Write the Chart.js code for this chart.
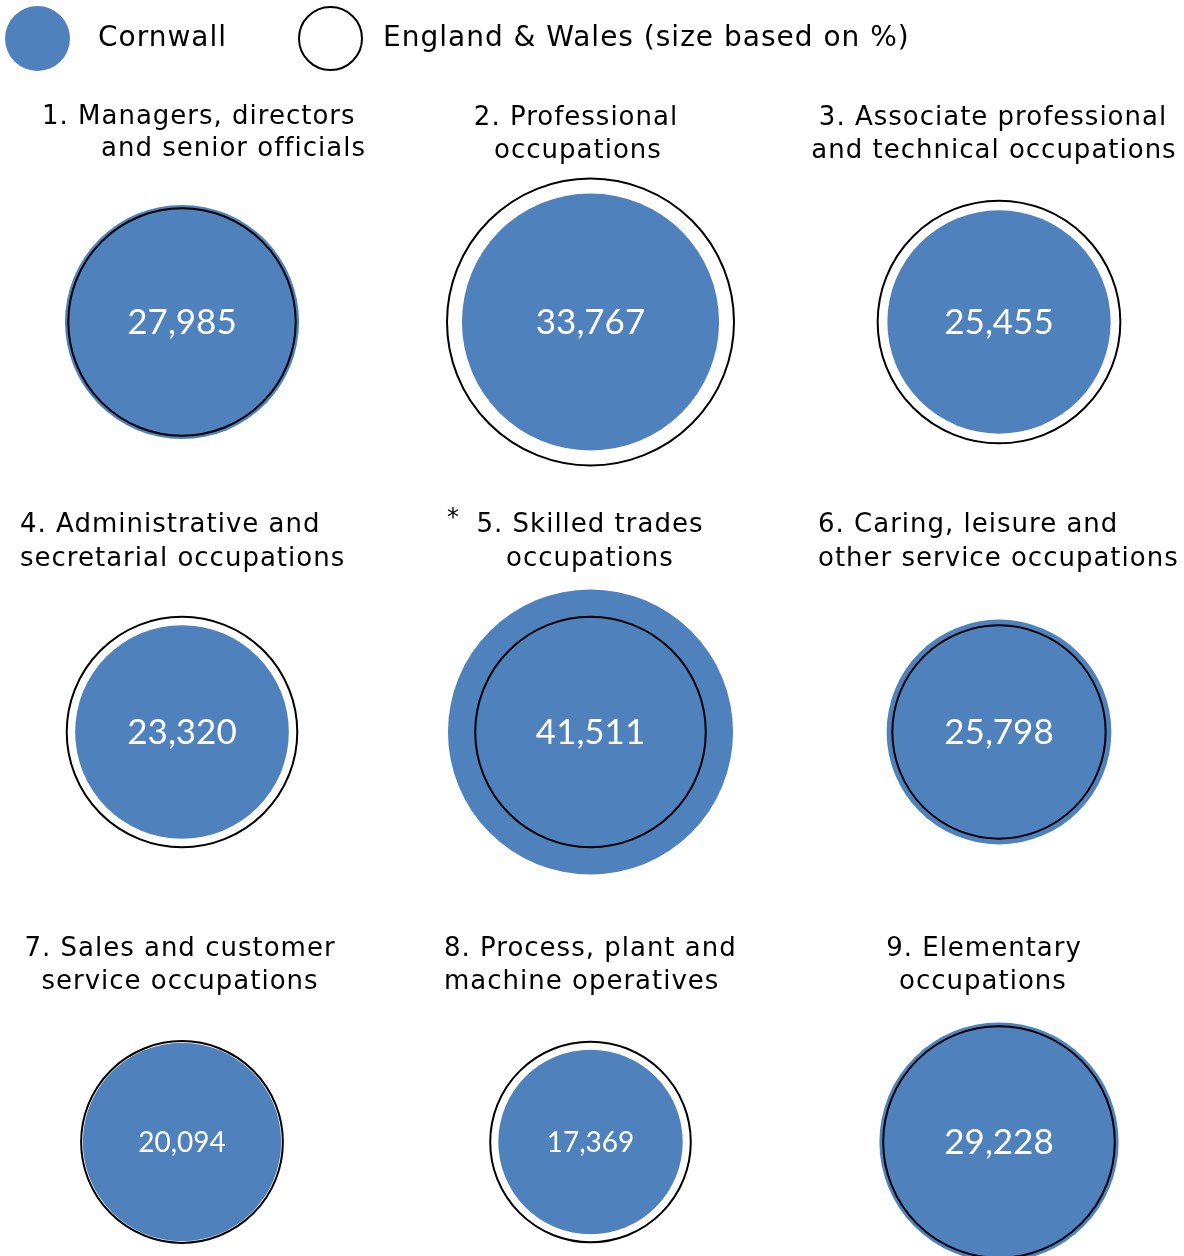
<!DOCTYPE html>
<html>
<head>
<meta charset="utf-8">
<script src="https://cdn.jsdelivr.net/npm/chart.js@4/dist/chart.umd.min.js"></script>
<style>
  body { margin: 0; background: #fff; }
  #wrap { position: relative; width: 1184px; height: 1256px; overflow: hidden; font-family: "DejaVu Sans", Verdana, sans-serif; color: #000; }
  #chart { position: absolute; left: 0; top: 0; }
  .t { position: absolute; font-size: 26px; letter-spacing: 1px; white-space: pre; line-height: 1; }
  .legend { position: absolute; font-size: 28px; letter-spacing: 1px; line-height: 1; transform: translateY(-50%); }
  .mark { position: absolute; width: 65px; height: 65px; border-radius: 50%; box-sizing: border-box; }
</style>
</head>
<body>
<div id="wrap">
  <canvas id="chart" width="1184" height="1256"></canvas>
  <div class="mark" style="left:5px;top:6px;background:#4f81bd"></div>
  <div class="legend" style="left:98px;top:37px">Cornwall</div>
  <div class="mark" style="left:298px;top:6px;border:2px solid #000"></div>
  <div class="legend" style="left:383px;top:37px">England &amp; Wales (size based on %)</div>
</div>
<script>
// Dados: ocupações (Census 2011)
const ocupacoes = [
  ['1. Managers, directors', 'and senior officials'],
  ['2. Professional', 'occupations'],
  ['3. Associate professional', 'and technical occupations'],
  ['4. Administrative and', 'secretarial occupations'],
  ['5. Skilled trades', 'occupations'],
  ['6. Caring, leisure and', 'other service occupations'],
  ['7. Sales and customer', 'service occupations'],
  ['8. Process, plant and', 'machine operatives'],
  ['9. Elementary', 'occupations']
];
const cornwall = [27985, 33767, 25455, 23320, 41511, 25798, 20094, 17369, 29228];
// % England & Wales (lido a partir do tamanho dos círculos)
const englandWales = [10.8, 17.2, 12.3, 11.1, 11.1, 9.5, 8.5, 8.4, 11.2];
const colunas = [0, 1, 2, 0, 1, 2, 0, 1, 2];
const linhas = [0, 0, 0, 1, 1, 1, 2, 2, 2];

// posição dos títulos (centro ou esquerda de cada linha, y do meio)
const tituloLayout = [
  [[42, 115, 'left'], [101, 147, 'left']],
  [[576, 116, 'center'], [578, 149, 'center']],
  [[993, 116, 'center'], [994, 149, 'center']],
  [[20, 523, 'left'], [20, 557, 'left']],
  [[590, 523, 'center'], [590, 557, 'center']],
  [[818, 523, 'left'], [818, 557, 'left']],
  [[180, 947, 'center'], [180, 980, 'center']],
  [[444, 947, 'left'], [444, 980, 'left']],
  [[984, 947, 'center'], [983, 980, 'center']]
];
const fonteValor = [35, 35, 35, 35, 35, 35, 28, 28, 35];
const escala = 34.6; // px por raiz de %

const wrap = document.getElementById('wrap');
ocupacoes.forEach((linhasTxt, i) => {
  linhasTxt.forEach((txt, j) => {
    const [x, y, align] = tituloLayout[i][j];
    const d = document.createElement('div');
    d.className = 't';
    d.textContent = txt;
    d.style.left = x + 'px';
    d.style.top = y + 'px';
    d.style.transform = align === 'center' ? 'translate(-50%,-50%)' : 'translate(0,-50%)';
    wrap.appendChild(d);
  });
});
const ast = document.createElement('div');
ast.className = 't';
ast.textContent = '*';
ast.style.left = '447px';
ast.style.top = '505px';
ast.style.fontSize = '24px';
wrap.appendChild(ast);

const total = cornwall.reduce((a, b) => a + b, 0);
const pontosCornwall = cornwall.map((v, i) => ({ x: colunas[i], y: linhas[i], r: escala * Math.sqrt(v / total * 100) }));
const pontosEW = englandWales.map((p, i) => ({ x: colunas[i], y: linhas[i], r: escala * Math.sqrt(p) }));

const rotulos = {
  id: 'rotulos',
  afterDatasetsDraw(chart) {
    const ctx = chart.ctx;
    const meta = chart.getDatasetMeta(1);
    ctx.save();
    ctx.fillStyle = '#fff';
    ctx.textAlign = 'center';
    ctx.textBaseline = 'middle';
    meta.data.forEach((el, i) => {
      ctx.font = fonteValor[i] + 'px Lato, "Open Sans", sans-serif';
      ctx.fillText(cornwall[i].toLocaleString('en-GB'), el.x, el.y + 1);
    });
    ctx.restore();
  }
};

new Chart(document.getElementById('chart'), {
  type: 'bubble',
  data: {
    datasets: [
      { label: 'England & Wales (size based on %)', data: pontosEW, backgroundColor: 'rgba(0,0,0,0)', borderColor: '#000', borderWidth: 2, clip: false },
      { label: 'Cornwall', data: pontosCornwall, backgroundColor: '#4f81bd', borderWidth: 0, clip: false }
    ]
  },
  options: {
    responsive: false,
    animation: false,
    events: [],
    layout: { autoPadding: false, padding: { left: 182, right: 185, top: 322, bottom: 114 } },
    scales: {
      x: { display: false, min: 0, max: 2 },
      y: { display: false, min: 0, max: 2, reverse: true }
    },
    plugins: { legend: { display: false }, tooltip: { enabled: false } }
  },
  plugins: [rotulos]
});
</script>
</body>
</html>
